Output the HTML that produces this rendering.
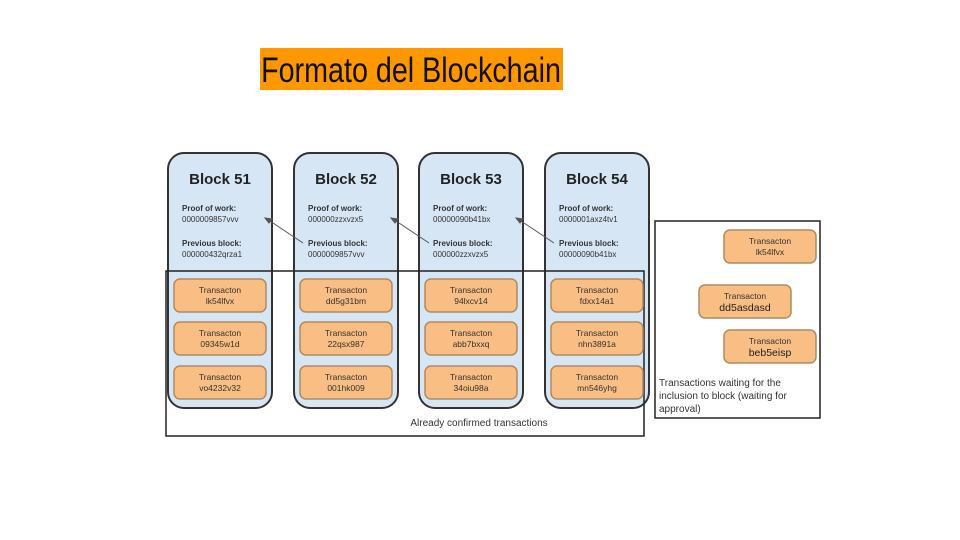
<!DOCTYPE html>
<html><head><meta charset="utf-8"><style>
html,body{margin:0;padding:0;background:#fff;width:960px;height:540px;overflow:hidden}
svg{display:block}
</style></head><body>
<svg width="960" height="540" viewBox="0 0 960 540" xmlns="http://www.w3.org/2000/svg" font-family="Liberation Sans, Arial, sans-serif">
<rect x="260" y="48" width="303" height="42" fill="#ff9800"/>
<text x="411" y="82" text-anchor="middle" font-size="35" fill="#111" transform="translate(411 0) scale(0.82 1) translate(-411 0)" font-family="Liberation Sans Narrow, Liberation Sans, sans-serif">Formato del Blockchain</text>

<g id="blocks" stroke="#333" stroke-width="2">
<rect x="168" y="153" width="104" height="255" rx="16" fill="#d6e6f5"/>
<rect x="294" y="153" width="104" height="255" rx="16" fill="#d6e6f5"/>
<rect x="419" y="153" width="104" height="255" rx="16" fill="#d6e6f5"/>
<rect x="545" y="153" width="104" height="255" rx="16" fill="#d6e6f5"/>
</g>
<g fill="#222" font-weight="bold" font-size="15" text-anchor="middle">
<text x="220" y="184">Block 51</text><text x="346" y="184">Block 52</text><text x="471" y="184">Block 53</text><text x="597" y="184">Block 54</text>
</g>
<g font-size="8" fill="#333">
<g font-weight="bold"><text x="182" y="211">Proof of work:</text><text x="182" y="246">Previous block:</text>
<text x="308" y="211">Proof of work:</text><text x="308" y="246">Previous block:</text>
<text x="433" y="211">Proof of work:</text><text x="433" y="246">Previous block:</text>
<text x="559" y="211">Proof of work:</text><text x="559" y="246">Previous block:</text></g>
<text x="182" y="222">0000009857vvv</text><text x="182" y="257">000000432qrza1</text>
<text x="308" y="222">000000zzxvzx5</text><text x="308" y="257">0000009857vvv</text>
<text x="433" y="222">00000090b41bx</text><text x="433" y="257">000000zzxvzx5</text>
<text x="559" y="222">0000001axz4tv1</text><text x="559" y="257">00000090b41bx</text>
</g>
<g stroke="#555" stroke-width="1" fill="#555">
<line x1="303" y1="243" x2="267" y2="219"/><polygon points="265,218 272,219 269,223"/>
<line x1="429" y1="243" x2="393" y2="219"/><polygon points="391,218 398,219 395,223"/>
<line x1="554" y1="243" x2="518" y2="219"/><polygon points="516,218 523,219 520,223"/>
</g>
<rect x="166" y="271" width="478" height="165" fill="none" stroke="#222" stroke-width="1.5"/>
<rect x="655" y="221" width="165" height="197" fill="none" stroke="#222" stroke-width="1.5"/>
<g fill="#f8be84" stroke="#b08a60" stroke-width="1.5">
<rect x="174" y="279" width="92" height="33" rx="6"/><rect x="174" y="322" width="92" height="33" rx="6"/><rect x="174" y="366" width="92" height="33" rx="6"/>
<rect x="300" y="279" width="92" height="33" rx="6"/><rect x="300" y="322" width="92" height="33" rx="6"/><rect x="300" y="366" width="92" height="33" rx="6"/>
<rect x="425" y="279" width="92" height="33" rx="6"/><rect x="425" y="322" width="92" height="33" rx="6"/><rect x="425" y="366" width="92" height="33" rx="6"/>
<rect x="551" y="279" width="92" height="33" rx="6"/><rect x="551" y="322" width="92" height="33" rx="6"/><rect x="551" y="366" width="92" height="33" rx="6"/>
<rect x="724" y="230" width="92" height="33" rx="6"/><rect x="699" y="285" width="92" height="33" rx="6"/><rect x="724" y="330" width="92" height="33" rx="6"/>
</g>
<g font-size="8.5" fill="#333" text-anchor="middle">
<text x="220" y="293">Transacton</text><text x="220" y="304">lk54lfvx</text>
<text x="220" y="336">Transacton</text><text x="220" y="347">09345w1d</text>
<text x="220" y="380">Transacton</text><text x="220" y="391">vo4232v32</text>
<text x="346" y="293">Transacton</text><text x="346" y="304">dd5g31bm</text>
<text x="346" y="336">Transacton</text><text x="346" y="347">22qsx987</text>
<text x="346" y="380">Transacton</text><text x="346" y="391">001hk009</text>
<text x="471" y="293">Transacton</text><text x="471" y="304">94lxcv14</text>
<text x="471" y="336">Transacton</text><text x="471" y="347">abb7bxxq</text>
<text x="471" y="380">Transacton</text><text x="471" y="391">34oiu98a</text>
<text x="597" y="293">Transacton</text><text x="597" y="304">fdxx14a1</text>
<text x="597" y="336">Transacton</text><text x="597" y="347">nhn3891a</text>
<text x="597" y="380">Transacton</text><text x="597" y="391">mn546yhg</text>
<text x="770" y="244">Transacton</text><text x="770" y="255">lk54lfvx</text>
<text x="745" y="299">Transacton</text><text x="745" y="311" font-size="10.5" fill="#222">dd5asdasd</text>
<text x="770" y="344">Transacton</text><text x="770" y="356" font-size="10.5" fill="#222">beb5eisp</text>
</g>
<text x="479" y="426" font-size="10" fill="#333" text-anchor="middle">Already confirmed transactions</text>
<g font-size="10" fill="#333">
<text x="659" y="386">Transactions waiting for the</text>
<text x="659" y="399">inclusion to block (waiting for</text>
<text x="659" y="412">approval)</text>
</g>
</svg>
</body></html>
